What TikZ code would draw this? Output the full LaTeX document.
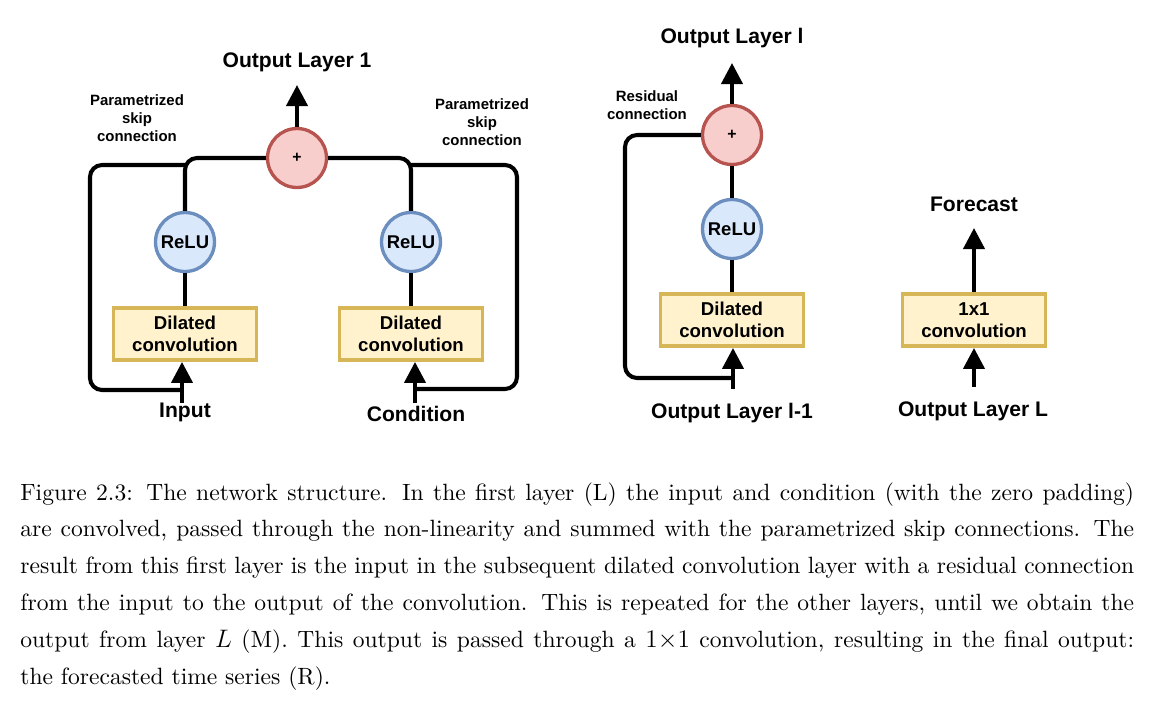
\documentclass[tikz,border=0pt]{standalone}
\usepackage{fontspec}
\newfontfamily\diagfont{Liberation Sans}
\newfontfamily\capfont{lmroman10-regular.otf}
\usetikzlibrary{arrows.meta}
\definecolor{sumfill}{HTML}{F8CECC}
\definecolor{sumline}{HTML}{B85450}
\definecolor{relufill}{HTML}{DAE8FC}
\definecolor{reluline}{HTML}{6C8EBF}
\definecolor{convfill}{HTML}{FFF2CC}
\definecolor{convline}{HTML}{D6B656}

\begin{document}
\begin{tikzpicture}[x=0.02cm,y=-0.02cm]
\tikzstyle{every node}=[inner sep=1pt, font=\diagfont\bfseries\fontsize{12}{14}\selectfont]
\tikzstyle{sum}=[circle, draw=sumline, fill=sumfill, line width=1.9pt, minimum size=1.18cm, font=\diagfont\bfseries\fontsize{9}{10}\selectfont]
\tikzstyle{relu}=[circle, draw=reluline, fill=relufill, line width=1.9pt, minimum size=1.18cm, inner sep=0pt, font=\diagfont\bfseries\fontsize{10.5}{12}\selectfont]
\tikzstyle{conv}=[rectangle, draw=convline, fill=convfill, line width=2.2pt, minimum width=2.86cm, minimum height=1.04cm, align=center, font=\diagfont\bfseries\fontsize{10.6}{12.7}\selectfont]
\tikzstyle{note}=[align=center, font=\diagfont\bfseries\fontsize{8.5}{10.2}\selectfont]
\tikzstyle{wire}=[line width=2.3pt]
\tikzstyle{arr}=[line width=2.3pt, -{Triangle[width=0.42cm,length=0.42cm]}]
\useasboundingbox (0,0) rectangle (1152,711);
\draw (297,158) node (p1) [sum] {+};
\draw (185,242) node (r1) [relu] {ReLU};
\draw (411,242) node (r2) [relu] {ReLU};
\draw (185,334) node (c1) [conv] {Dilated\\convolution};
\draw (411,334) node (c2) [conv] {Dilated\\convolution};
\draw (297,62) node (t1) {Output Layer 1};
\draw (185,412) node (i1) {Input};
\draw (416,414) node (i2) {Condition};
\draw (137,118) node (s1) [note] {Parametrized\\skip\\connection};
\draw (482,122) node (s2) [note] {Parametrized\\skip\\connection};
\draw (732,135) node (p2) [sum] {+};
\draw (732,229) node (r3) [relu] {ReLU};
\draw (732,320) node (c3) [conv] {Dilated\\convolution};
\draw (732,38) node (t2) {Output Layer l};
\draw (732,413) node (i3) {Output Layer l-1};
\draw (647,105) node (s3) [note] {Residual\\connection};
\draw (974,320) node (c4) [conv] {1x1\\convolution};
\draw (974,204) node (t3) {Forecast};
\draw (973,411) node (i4) {Output Layer L};
\coordinate (o1) at (297,85);
\coordinate (a1) at (182,403);
\coordinate (k1) at (182,390);
\coordinate (a2) at (415,403);
\coordinate (k2) at (415,389);
\coordinate (o2) at (732,63);
\coordinate (a3) at (733,389);
\coordinate (k3) at (733,378);
\coordinate (o3) at (974,228);
\coordinate (a4) at (974,387);
\draw[wire] (c1) -- (r1);
\draw[wire] (c2) -- (r2);
\draw[wire] (c3) -- (r3);
\draw[wire] (r3) -- (p2);
\draw[wire, rounded corners=0.24cm] (r1.north) |- (p1.west);
\draw[wire, rounded corners=0.24cm] (r2.north) |- (p1.east);
\draw[wire, rounded corners=0.24cm] (k1) -| (90,165) -- (r1.north |- 0,165);
\draw[wire, rounded corners=0.24cm] (k2) -| (517,165) -- (r2.north |- 0,165);
\draw[wire, rounded corners=0.24cm] (k3) -| (625,135) -- (p2.west);
\draw[arr] (p1) -- (o1);
\draw[arr] (p2) -- (o2);
\draw[arr] (c4) -- (o3);
\draw[arr] (a1) -- (a1 |- c1.south);
\draw[arr] (a2) -- (a2 |- c2.south);
\draw[arr] (a3) -- (a3 |- c3.south);
\draw[arr] (a4) -- (a4 |- c4.south);
\node (cap) [anchor=north west, text width=22.28cm, align=justify, inner sep=0pt, font=\capfont\fontsize{13.4}{21}\selectfont] at (20,482) {Figure 2.3: The network structure. In the first layer (L) the input and condition (with the zero padding)\linebreak are convolved, passed through the non-linearity and summed with the parametrized skip connections. The\linebreak result from this first layer is the input in the subsequent dilated convolution layer with a residual connection\linebreak from the input to the output of the convolution. This is repeated for the other layers, until we obtain the\linebreak output from layer $L$ (M). This output is passed through a $1{\times}1$ convolution, resulting in the final output:\linebreak the forecasted time series (R).};
\end{tikzpicture}
\end{document}
